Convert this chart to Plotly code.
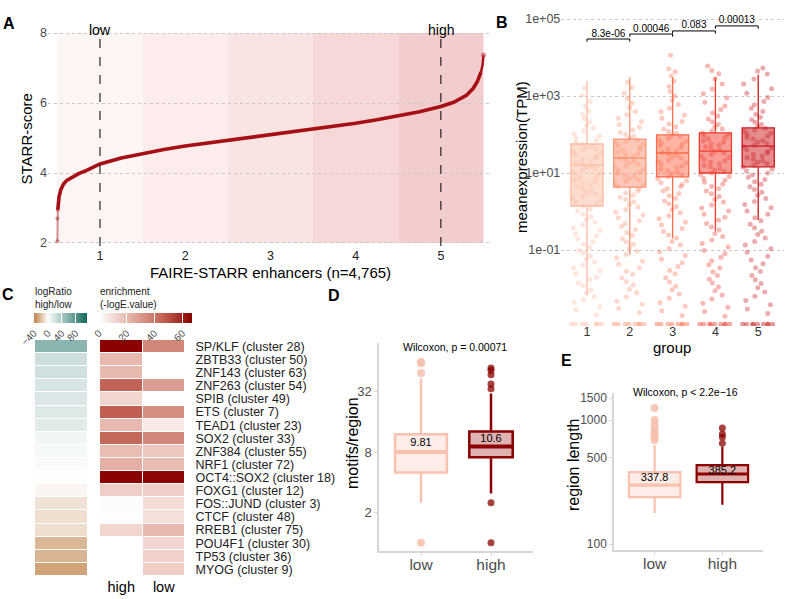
import plotly.graph_objects as go

W, H = 796, 599
FONT = "Liberation Sans, Arial, Helvetica, sans-serif"


def fx(p):
    return p / W


def fy(p):
    return 1 - p / H


# ---------------- Panel A data ----------------
enh_rank = [0.50, 0.50, 0.505, 0.51, 0.52, 0.54, 0.57, 0.61, 0.67, 0.75, 0.85, 1.00,
            1.25, 1.50, 1.75, 2.00, 2.50, 3.00, 3.50, 4.00, 4.25, 4.50, 4.75, 5.00,
            5.15, 5.30, 5.38, 5.43, 5.47, 5.49, 5.50]
starr_score = [2.05, 2.70, 2.95, 3.15, 3.33, 3.52, 3.68, 3.79, 3.88, 3.98, 4.08, 4.26,
               4.43, 4.56, 4.67, 4.77, 4.93, 5.08, 5.25, 5.42, 5.52, 5.63, 5.75, 5.90,
               6.02, 6.22, 6.42, 6.62, 6.88, 7.10, 7.37]
starr_groups = [1, 2, 3, 4, 5]
group_marks = {1: "low", 5: "high"}

# ---------------- Panel B data ----------------
expr_groups = [1, 2, 3, 4, 5]
expr_q1 = [1.39, 4.3, 7.9, 10.0, 14.5]
expr_median = [16.1, 24.5, 33.1, 37.2, 50.1]
expr_q3 = [56.6, 75.9, 97.7, 110.0, 148.0]
expr_lower = [0.0068, 0.074, 0.20, 0.31, 0.60]
expr_upper = [2455, 3090, 3090, 3090, 3548]
expr_points_log10 = [
    [-2.68, -2.55, -2.47, -2.36, -2.29, -2.21, -2.12, -2.04, -1.93, -1.86, -1.77, -1.71, -1.62,
     -1.54, -1.46, -1.39, -1.31, -1.24, -1.16, -1.08, -1.01, -0.93, -0.86, -0.78, -0.71, -0.63,
     -0.57, -0.49, -0.42, -0.35, -0.27, -0.21, -0.13, -0.07, 0.01, 0.06, 0.13, 0.18, 0.24,
     0.29, 0.35, 0.39, 0.45, 0.50, 0.54, 0.59, 0.64, 0.69, 0.73, 0.78, 0.82, 0.87, 0.91, 0.95,
     0.99, 1.03, 1.07, 1.11, 1.15, 1.19, 1.23, 1.27, 1.31, 1.35, 1.39, 1.43, 1.47, 1.51, 1.55,
     1.59, 1.63, 1.67, 1.71, 1.75, 1.80, 1.85, 1.90, 1.96, 2.02, 2.09, 2.17, 2.24, 2.33, 2.41,
     2.52, 2.61, 2.73, 2.86, 3.02, 3.21],
    [-2.63, -2.52, -2.41, -2.33, -2.22, -2.11, -2.02, -1.91, -1.82, -1.73, -1.63, -1.55, -1.46,
     -1.37, -1.29, -1.20, -1.12, -1.03, -0.95, -0.86, -0.79, -0.71, -0.62, -0.55, -0.47, -0.39,
     -0.31, -0.24, -0.16, -0.09, -0.02, 0.05, 0.12, 0.18, 0.25, 0.31, 0.37, 0.43, 0.48, 0.54,
     0.59, 0.64, 0.69, 0.73, 0.78, 0.82, 0.86, 0.90, 0.94, 0.98, 1.02, 1.06, 1.10, 1.14, 1.18,
     1.22, 1.26, 1.30, 1.34, 1.38, 1.42, 1.46, 1.50, 1.54, 1.58, 1.62, 1.66, 1.70, 1.74, 1.78,
     1.82, 1.86, 1.90, 1.95, 2.00, 2.06, 2.12, 2.19, 2.26, 2.34, 2.42, 2.51, 2.60, 2.70, 2.81,
     2.93, 3.07, 3.22, 3.36],
    [-2.70, -2.58, -2.46, -2.37, -2.25, -2.14, -2.03, -1.94, -1.83, -1.72, -1.62, -1.53, -1.43,
     -1.33, -1.24, -1.14, -1.05, -0.96, -0.87, -0.78, -0.69, -0.61, -0.52, -0.44, -0.35, -0.27,
     -0.19, -0.11, -0.03, 0.05, 0.13, 0.20, 0.27, 0.34, 0.41, 0.47, 0.53, 0.59, 0.65, 0.70,
     0.75, 0.80, 0.85, 0.90, 0.94, 0.98, 1.02, 1.06, 1.10, 1.14, 1.18, 1.22, 1.26, 1.30, 1.34,
     1.38, 1.42, 1.46, 1.50, 1.54, 1.58, 1.62, 1.66, 1.70, 1.74, 1.78, 1.82, 1.86, 1.90, 1.94,
     1.98, 2.03, 2.08, 2.14, 2.20, 2.27, 2.34, 2.42, 2.50, 2.59, 2.68, 2.78, 2.89, 3.00, 3.12,
     3.25, 3.38, 3.52, 3.63, 3.71, 4.06],
    [-2.72, -2.60, -2.49, -2.38, -2.27, -2.17, -2.06, -1.96, -1.86, -1.76, -1.66, -1.57, -1.47,
     -1.38, -1.28, -1.19, -1.10, -1.01, -0.92, -0.83, -0.74, -0.65, -0.57, -0.48, -0.40, -0.31,
     -0.23, -0.15, -0.07, 0.01, 0.09, 0.17, 0.25, 0.32, 0.39, 0.46, 0.53, 0.59, 0.65, 0.71,
     0.76, 0.81, 0.86, 0.91, 0.96, 1.00, 1.04, 1.08, 1.12, 1.16, 1.20, 1.24, 1.28, 1.32, 1.36,
     1.40, 1.44, 1.48, 1.52, 1.56, 1.60, 1.64, 1.68, 1.72, 1.76, 1.80, 1.84, 1.88, 1.92, 1.96,
     2.00, 2.04, 2.09, 2.14, 2.20, 2.26, 2.33, 2.40, 2.48, 2.56, 2.65, 2.74, 2.84, 2.95, 3.06,
     3.18, 3.31, 3.44, 3.58, 3.66, 3.78],
    [-2.65, -2.53, -2.42, -2.31, -2.20, -2.09, -1.98, -1.87, -1.77, -1.66, -1.56, -1.46, -1.36,
     -1.26, -1.16, -1.06, -0.97, -0.87, -0.78, -0.69, -0.60, -0.51, -0.42, -0.33, -0.24, -0.16,
     -0.07, 0.01, 0.10, 0.18, 0.26, 0.34, 0.42, 0.50, 0.57, 0.64, 0.71, 0.77, 0.83, 0.89, 0.95,
     1.00, 1.05, 1.10, 1.15, 1.20, 1.24, 1.28, 1.32, 1.36, 1.40, 1.44, 1.48, 1.52, 1.56, 1.60,
     1.64, 1.68, 1.72, 1.76, 1.80, 1.84, 1.88, 1.92, 1.96, 2.00, 2.04, 2.08, 2.12, 2.16, 2.21,
     2.26, 2.32, 2.38, 2.45, 2.52, 2.60, 2.68, 2.77, 2.86, 2.96, 3.07, 3.19, 3.31, 3.44, 3.57,
     3.65, 3.73],
]
expr_zero_counts = [7, 8, 8, 9, 9]
expr_colors = ["#fcbba1", "#fc9272", "#fb6a4a", "#ef3b2c", "#cb181d"]
pair_pvalues = ["8.3e-06", "0.00046", "0.083", "0.00013"]
bracket_log10 = [4.48, 4.61, 4.69, 4.82]

# ---------------- Panel C data ----------------
motif_labels = ["SP/KLF (cluster 28)", "ZBTB33 (cluster 50)", "ZNF143 (cluster 63)",
                "ZNF263 (cluster 54)", "SPIB (cluster 49)", "ETS (cluster 7)",
                "TEAD1 (cluster 23)", "SOX2 (cluster 33)", "ZNF384 (cluster 55)",
                "NRF1 (cluster 72)", "OCT4::SOX2 (cluster 18)", "FOXG1 (cluster 12)",
                "FOS::JUND (cluster 3)", "CTCF (cluster 48)", "RREB1 (cluster 75)",
                "POU4F1 (cluster 30)", "TP53 (cluster 36)", "MYOG (cluster 9)"]
log_ratio = [56, 24, 23, 19, 18, 16, 15, 7, 5, 3, 1, -3, -9, -10, -10.5, -22.5, -23.5, -29]
enrich_high = [67, 20, 20, 45, 12, 47, 20, 44, 19, 23, 67, 14, 1, 0.5, 12, None, None, None]
enrich_low = [35, None, None, 28, None, 33, 6, 35, 16, 19, 66, 14, 10, 9, 20, 12, 13, 14]
enrich_columns = ["high", "low"]

# ---------------- Panel D data ----------------
cmp_labels = ["low", "high"]
mot_q1 = [5.0, 7.1]
mot_median = [8.0, 9.1]
mot_q3 = [12.0, 12.8]
mot_lower = [2.5, 3.1]
mot_upper = [43, 30.5]
mot_mean = [9.81, 10.6]
mot_outliers = [[1, 49, 61, 63], [1, 2.5, 34, 38, 47, 52, 55]]

# ---------------- Panel E data ----------------
len_q1 = [239, 316]
len_median = [299, 367]
len_q3 = [380, 433]
len_lower = [178, 207]
len_upper = [628, 609]
len_mean = [337.8, 385.2]
len_outliers = [[690, 729, 786, 830, 911, 1000, 1250], [650, 730, 771, 862]]

cmp_line = ["#f8c2ae", "#8b0000"]
cmp_fill = ["rgba(250,200,185,0.35)", "rgba(150,0,0,0.30)"]
cmp_marker = ["rgba(248,190,172,0.85)", "rgba(139,0,0,0.75)"]

fig = go.Figure()

# ================= Panel A =================
band_colors = ["#fdf4f4", "#fcecec", "#f9e4e4", "#f6d8d8", "#f3cdce"]
for g, col in zip(starr_groups, band_colors):
    fig.add_shape(type="rect", xref="x", yref="y", x0=g - 0.5, x1=g + 0.5, y0=2, y1=8,
                  fillcolor=col, line_width=0, layer="below")
for g, lab in group_marks.items():
    fig.add_shape(type="line", xref="x", yref="y domain", x0=g, x1=g, y0=0, y1=1,
                  line=dict(color="black", width=1, dash="dash"))
    fig.add_annotation(x=g, xref="x", y=fy(20), yref="paper", text=lab, showarrow=False,
                       font=dict(size=14, color="black"))

fig.add_trace(go.Scatter(x=enh_rank[:3], y=starr_score[:3], mode="lines+markers",
                         line=dict(color="rgba(165,15,21,0.45)", width=2),
                         marker=dict(size=4, color="rgba(165,15,21,0.45)"),
                         xaxis="x", yaxis="y", hoverinfo="skip"))
fig.add_trace(go.Scatter(x=enh_rank[2:-2], y=starr_score[2:-2], mode="lines",
                         line=dict(color="#a50f15", width=3.6),
                         xaxis="x", yaxis="y", hoverinfo="skip"))
fig.add_trace(go.Scatter(x=enh_rank[-3:], y=starr_score[-3:], mode="lines",
                         line=dict(color="#a50f15", width=2.4),
                         xaxis="x", yaxis="y", hoverinfo="skip"))
fig.add_trace(go.Scatter(x=enh_rank[-1:], y=starr_score[-1:], mode="markers",
                         marker=dict(size=5, color="rgba(200,60,70,0.6)"),
                         xaxis="x", yaxis="y", hoverinfo="skip"))


# ================= Panel B =================
def hex_rgba(h, a):
    h = h.lstrip("#")
    return "rgba(%d,%d,%d,%.2f)" % (int(h[0:2], 16), int(h[2:4], 16), int(h[4:6], 16), a)


for gi, g in enumerate(expr_groups):
    fig.add_trace(go.Box(x=[g], q1=[expr_q1[gi]], median=[expr_median[gi]], q3=[expr_q3[gi]],
                         lowerfence=[expr_lower[gi]], upperfence=[expr_upper[gi]],
                         width=0.75, whiskerwidth=0, boxpoints=False,
                         fillcolor=hex_rgba(expr_colors[gi], 0.5),
                         line=dict(color=expr_colors[gi], width=1.3),
                         xaxis="x2", yaxis="y2", hoverinfo="skip"))

chunk_sizes = [11, 14, 12, 15, 13, 10, 16]
floor_tpm = 10 ** -2.93
for gi, g in enumerate(expr_groups):
    vals = sorted(expr_points_log10[gi])
    k = gi * 2
    start = 0
    while start < len(vals):
        n = chunk_sizes[k % len(chunk_sizes)]
        k += 1
        chunk = vals[start:start + n]
        start += n
        fig.add_trace(go.Box(x=[g] * len(chunk), y=[10 ** v for v in chunk], boxpoints="all",
                             jitter=1, pointpos=0, width=0.86,
                             fillcolor="rgba(0,0,0,0)",
                             line=dict(color="rgba(0,0,0,0)", width=0),
                             marker=dict(color=expr_colors[gi], opacity=0.36, size=5),
                             xaxis="x2", yaxis="y2", hoverinfo="skip"))
    nz = expr_zero_counts[gi]
    fig.add_trace(go.Box(x=[g] * nz, y=[floor_tpm] * nz, boxpoints="all", jitter=1,
                         pointpos=0, width=0.86, fillcolor="rgba(0,0,0,0)",
                         line=dict(color="rgba(0,0,0,0)", width=0),
                         marker=dict(color=expr_colors[gi], opacity=0.45, size=5),
                         xaxis="x2", yaxis="y2", hoverinfo="skip"))

for i, (pv, lv) in enumerate(zip(pair_pvalues, bracket_log10)):
    g0, g1 = expr_groups[i], expr_groups[i + 1]
    fig.add_trace(go.Scatter(x=[g0, g0, g1, g1],
                             y=[10 ** (lv - 0.07), 10 ** lv, 10 ** lv, 10 ** (lv - 0.07)],
                             mode="lines", line=dict(color="black", width=1),
                             xaxis="x2", yaxis="y2", hoverinfo="skip"))
    fig.add_trace(go.Scatter(x=[(g0 + g1) / 2], y=[10 ** lv], mode="text", text=[pv],
                             textposition="top center",
                             textfont=dict(size=10, color="black", family=FONT),
                             xaxis="x2", yaxis="y2", hoverinfo="skip"))

# ================= Panel C =================
lr_scale = [[0.0, "rgb(190,128,70)"], [40 / 153, "rgb(255,255,255)"], [1.0, "rgb(20,105,95)"]]
en_scale = [[0.0, "rgb(255,255,255)"], [0.3, "rgb(232,185,175)"], [0.5, "rgb(212,140,125)"],
            [0.7, "rgb(192,95,80)"], [1.0, "rgb(139,0,0)"]]

cb_common = dict(orientation="h", xanchor="center", y=fy(313), yanchor="top",
                 lenmode="pixels", thickness=10, thicknessmode="pixels", xpad=0, ypad=0,
                 outlinewidth=0, ticks="inside", ticklen=10, tickcolor="white", tickangle=-45,
                 tickfont=dict(size=10, color="#4d4d4d", family=FONT))

fig.add_trace(go.Heatmap(z=[[v] for v in log_ratio], x=["logRatio"], y=motif_labels,
                         xaxis="x3", yaxis="y3", colorscale=lr_scale, zmin=-40, zmax=113,
                         ygap=1, hoverinfo="skip",
                         colorbar=dict(x=fx(60.5), len=53, tickvals=[-40, 0, 40, 80],
                                       **cb_common)))
fig.add_trace(go.Heatmap(z=[[h, l] for h, l in zip(enrich_high, enrich_low)], x=enrich_columns,
                         y=motif_labels, xaxis="x4", yaxis="y4", colorscale=en_scale,
                         zmin=0, zmax=67, xgap=1, ygap=1, hoverinfo="skip",
                         colorbar=dict(x=fx(145.5), len=93, tickvals=[0, 20, 40, 60],
                                       **cb_common)))


# ================= Panels D & E =================
def add_cmp(xa, ya, q1, med, q3, lo, up, mean, outl, widths, lw, mw, osize):
    for i in range(2):
        fig.add_trace(go.Scatter(x=[i] * len(outl[i]), y=outl[i], mode="markers",
                                 marker=dict(size=osize[i], color=cmp_marker[i]),
                                 xaxis=xa, yaxis=ya, hoverinfo="skip"))
        fig.add_trace(go.Box(x=[i], q1=[q1[i]], median=[med[i]], q3=[q3[i]],
                             lowerfence=[lo[i]], upperfence=[up[i]], width=widths[i],
                             whiskerwidth=0, boxpoints=False, fillcolor=cmp_fill[i],
                             line=dict(color=cmp_line[i], width=lw),
                             xaxis=xa, yaxis=ya, hoverinfo="skip"))
        fig.add_trace(go.Scatter(x=[i - widths[i] / 2, i + widths[i] / 2], y=[med[i], med[i]],
                                 mode="lines", line=dict(color=cmp_line[i], width=mw),
                                 xaxis=xa, yaxis=ya, hoverinfo="skip"))
        fig.add_trace(go.Scatter(x=[i], y=[mean[i]], mode="text", text=[str(mean[i])],
                                 textposition="middle center",
                                 textfont=dict(size=11, color="black", family=FONT),
                                 xaxis=xa, yaxis=ya, hoverinfo="skip"))


add_cmp("x5", "y5", mot_q1, mot_median, mot_q3, mot_lower, mot_upper, mot_mean, mot_outliers,
        [0.74, 0.62], 2.5, 4, [8, 7])
add_cmp("x6", "y6", len_q1, len_median, len_q3, len_lower, len_upper, len_mean, len_outliers,
        [0.76, 0.76], 2.2, 3.2, [8, 7])

# ================= Layout =================
grid = dict(showgrid=True, gridcolor="#c9c9c9", griddash="dot", gridwidth=1)
cmp_axis = dict(showline=True, linecolor="#d6d6d6", linewidth=1.5, ticks="outside", ticklen=3,
                tickcolor="#d6d6d6", showgrid=False, zeroline=False)

fig.update_layout(
    width=W, height=H, margin=dict(l=0, r=0, t=0, b=0, autoexpand=False),
    paper_bgcolor="white", plot_bgcolor="white", showlegend=False,
    font=dict(family=FONT, color="#222"), boxmode="overlay",
    xaxis=dict(domain=[fx(48), fx(492)], range=[0.39, 5.6], anchor="y", tickvals=starr_groups,
               showgrid=False, zeroline=False, ticks="",
               tickfont=dict(size=12.5, color="#222")),
    yaxis=dict(domain=[fy(246), fy(28)], range=[1.914, 8.143], anchor="x", tickvals=[2, 4, 6, 8],
               zeroline=False, tickfont=dict(size=12.5, color="#4d4d4d"), **grid),
    xaxis2=dict(domain=[fx(561.3), fx(783.9)], range=[0.4, 5.6], anchor="y2",
                tickvals=expr_groups, showgrid=False, zeroline=False, ticks="",
                ticklabelstandoff=-4, tickfont=dict(size=12.5, color="#333")),
    yaxis2=dict(domain=[fy(326), fy(15)], type="log", range=[-2.974, 5.104], anchor="x2",
                tickvals=[0.1, 10, 1000, 100000], ticktext=["1e-01", "1e+01", "1e+03", "1e+05"],
                zeroline=False, tickfont=dict(size=12.5, color="#4d4d4d"), **grid),
    xaxis3=dict(domain=[fx(35), fx(87)], anchor="y3", visible=False),
    yaxis3=dict(domain=[fy(576), fy(340)], anchor="x3", autorange="reversed", visible=False),
    xaxis4=dict(domain=[fx(100), fx(185)], anchor="y4", showgrid=False, zeroline=False,
                ticks="", tickfont=dict(size=14.5, color="black")),
    yaxis4=dict(domain=[fy(576), fy(340)], anchor="x4", autorange="reversed", side="right",
                tickmode="array", tickvals=motif_labels,
                showgrid=False, zeroline=False, ticks="outside", ticklen=7,
                tickcolor="rgba(0,0,0,0)", tickfont=dict(size=12.5, color="#222")),
    xaxis5=dict(domain=[fx(379), fx(533)], range=[-0.6, 1.6], anchor="y5", tickvals=[0, 1],
                ticktext=cmp_labels, ticklabelstandoff=-4,
                tickfont=dict(size=15.5, color="#4d4d4d"), **cmp_axis),
    yaxis5=dict(domain=[fy(551), fy(343)], type="log", range=[-0.082, 1.988], anchor="x5",
                tickvals=[2, 8, 32], tickfont=dict(size=13, color="#4d4d4d"), **cmp_axis),
    xaxis6=dict(domain=[fx(614), fx(763)], range=[-0.6, 1.6], anchor="y6", tickvals=[0, 1],
                ticktext=cmp_labels, ticklabelstandoff=-4,
                tickfont=dict(size=15.5, color="#4d4d4d"), **cmp_axis),
    yaxis6=dict(domain=[fy(550), fy(393)], type="log", range=[1.952, 3.218], anchor="x6",
                tickvals=[100, 500, 1000, 1500], tickfont=dict(size=12, color="#4d4d4d"),
                **cmp_axis),
)


def ann(x, y, text, size, color="black", angle=0, xanchor="center", align="center"):
    fig.add_annotation(x=fx(x), y=fy(y), xref="paper", yref="paper", text=text,
                       showarrow=False, textangle=angle, xanchor=xanchor, yanchor="middle",
                       align=align, font=dict(size=size, color=color, family=FONT))


# panel letters
for lt, (lx, ly) in {"A": (9, 24), "B": (502, 23), "C": (8, 294), "D": (334, 295),
                     "E": (566, 360)}.items():
    ann(lx, ly, "<b>%s</b>" % lt, 16)

# axis titles
ann(26.5, 139, "STARR-score", 15, angle=-90)
ann(270, 272, "FAIRE-STARR enhancers (n=4,765)", 15)
ann(521, 157, "meanexpression(TPM)", 15, angle=-90)
ann(672, 347, "group", 15)
ann(352, 443, "motifs/region", 16, angle=-90)
ann(573, 465, "region length", 16, angle=-90)

# colorbar titles
ann(33, 297.5, "logRatio<br>high/low", 10, color="#222", xanchor="left", align="left")
ann(98, 297.5, "enrichment<br>(-logE.value)", 10, color="#222", xanchor="left", align="left")

# test annotations
ann(455, 347, "Wilcoxon, p = 0.00071", 10.5)
ann(685, 392, "Wilcoxon, p < 2.2e\u221216", 10.5)

fig.write_html("out.html", config={"displayModeBar": False},
               post_script="document.body.style.margin='0';document.body.style.overflow='hidden';")
